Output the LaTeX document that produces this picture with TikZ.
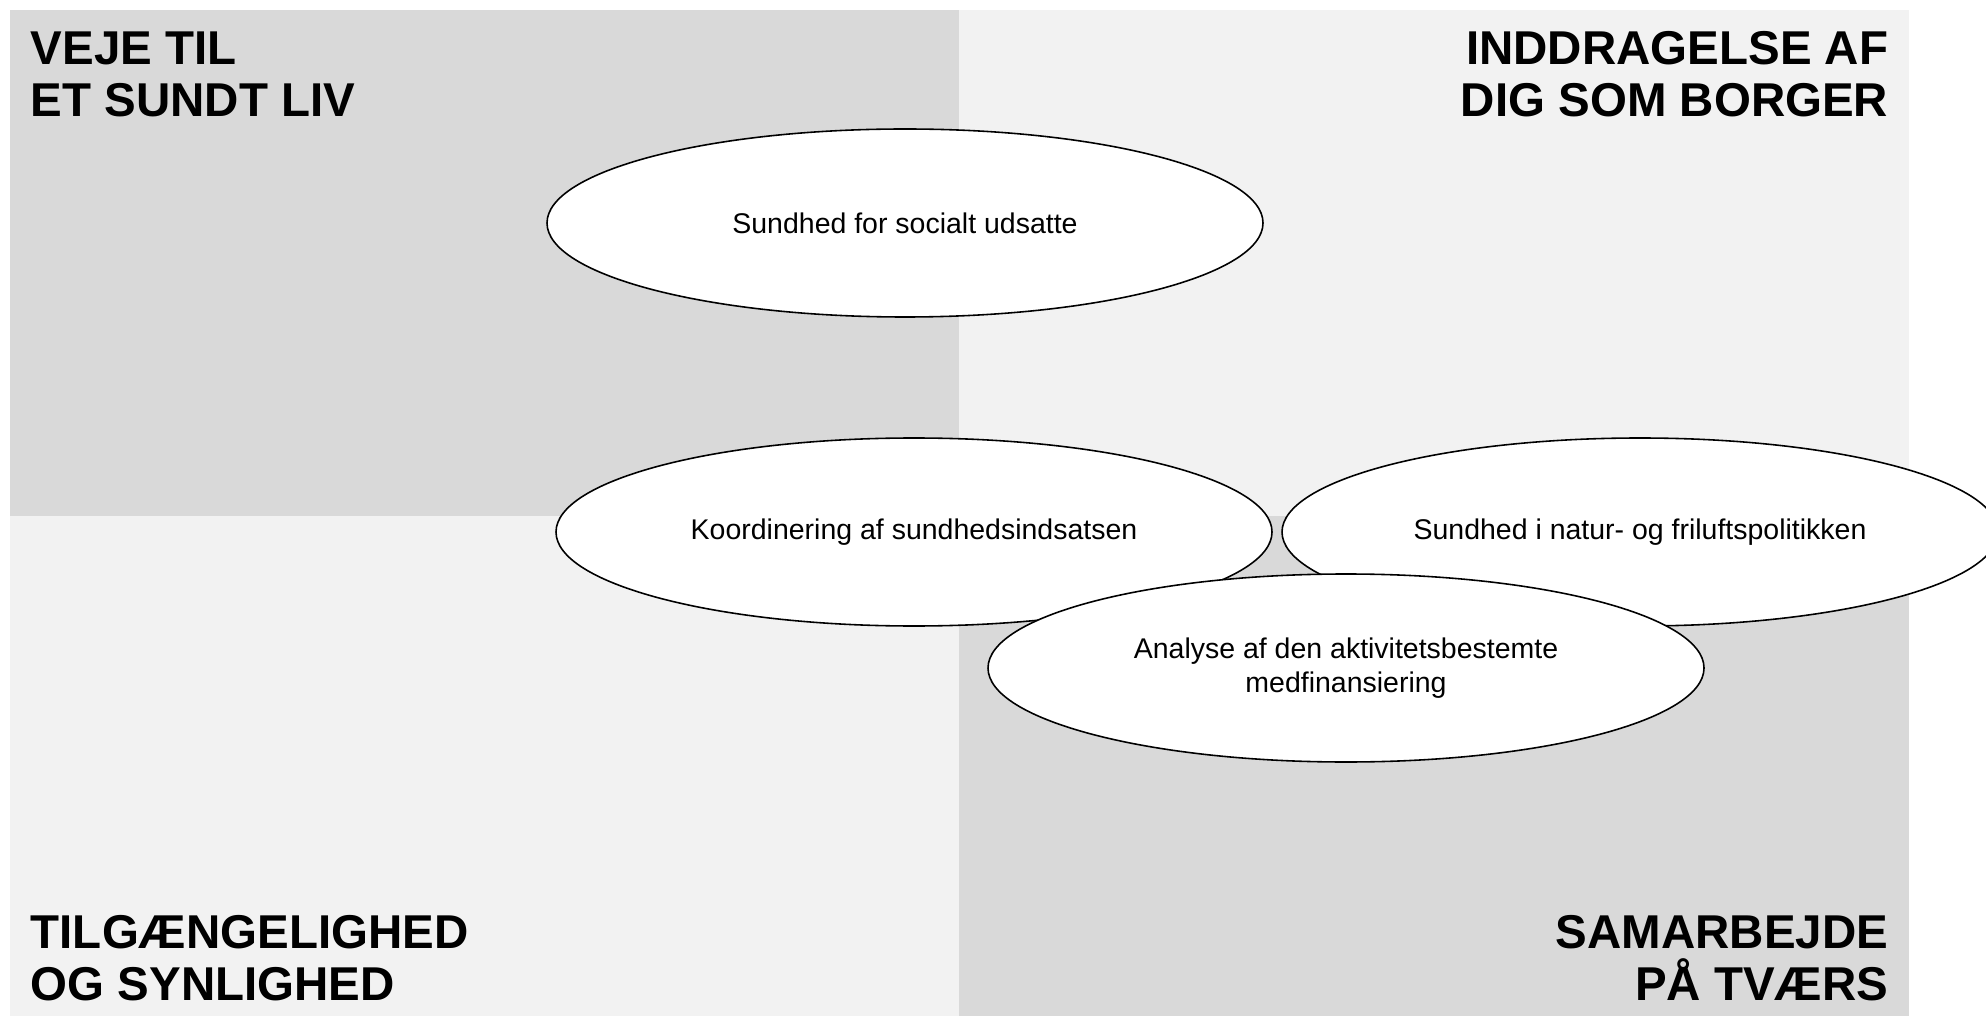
\documentclass[tikz,border=0pt]{standalone}
\usepackage{fontspec}
\setmainfont{Liberation Sans}
\usetikzlibrary{shapes.geometric}

\definecolor{quaddark}{HTML}{D9D9D9}
\definecolor{quadlight}{HTML}{F2F2F2}

\newlength\unitL
\setlength\unitL{0.01cm}

\begin{document}
\begin{tikzpicture}[x=\unitL, y=-\unitL, line width=0.45pt,
		theme/.style={ellipse, draw=black, fill=white, inner sep=0pt,
			minimum width=716\unitL, minimum height=188\unitL,
			align=center, font=\fontsize{8.1pt}{9.6pt}\selectfont},
		corner/.style={inner sep=0pt, font=\fontsize{13.5pt}{14.8pt}\selectfont\bfseries}]
	
	\useasboundingbox (0,0) rectangle (1986,1016);
	
	% === Four quadrants ===
	\fill[quaddark]  (10,10)   rectangle (959,516);
	\fill[quadlight] (959,10)  rectangle (1909,516);
	\fill[quadlight] (10,516)  rectangle (959,1016);
	\fill[quaddark]  (959,516) rectangle (1909,1016);
	
	% === Quadrant titles ===
	\node[corner, anchor=north west, align=left]  (veje)     at (30,31)    {VEJE TIL\\ET SUNDT LIV};
	\node[corner, anchor=north east, align=right] (inddrag)  at (1889,31)  {INDDRAGELSE AF\\DIG SOM BORGER};
	\node[corner, anchor=south west, align=left]  (tilgaeng) at (30,1002)  {TILGÆNGELIGHED\\OG SYNLIGHED};
	\node[corner, anchor=south east, align=right] (samarb)   at (1889,1002) {SAMARBEJDE\\PÅ TVÆRS};
	
	% === Focus areas (ellipses) ===
	\node[theme] (udsatte)   at (905,223)  {Sundhed for socialt udsatte};
	\node[theme] (koord)     at (914,532)  {Koordinering af sundhedsindsatsen};
	\node[theme] (natur)     at (1640,532) {Sundhed i natur- og friluftspolitikken};
	\node[theme] (analyse)   at (1346,668) {Analyse af den aktivitetsbestemte\\medfinansiering};
	
\end{tikzpicture}
\end{document}
